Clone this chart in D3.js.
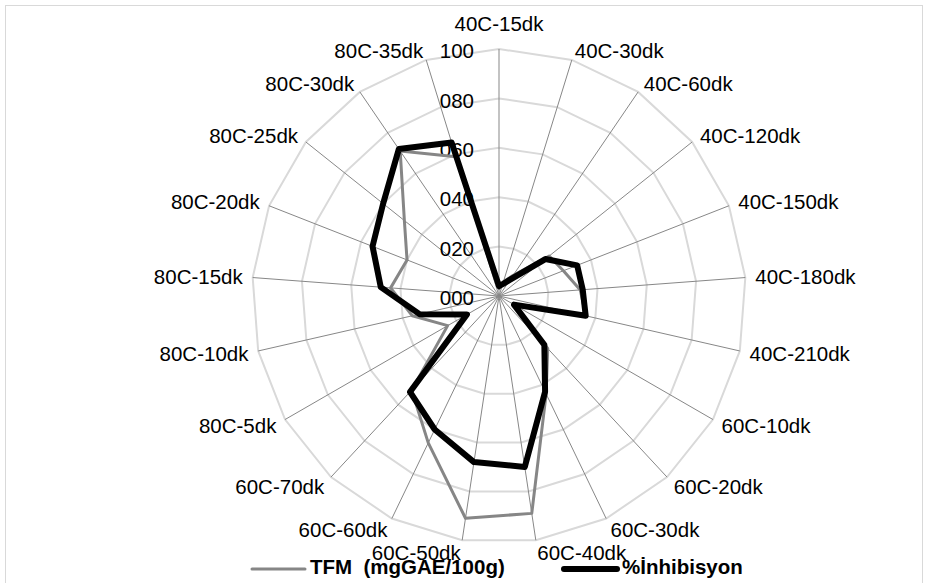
<!DOCTYPE html>
<html><head><meta charset="utf-8">
<script src="https://cdn.jsdelivr.net/npm/d3@7/dist/d3.min.js"></script>
<style>
body{margin:0;background:#fff}
svg text{font-family:"Liberation Sans",Arial,sans-serif}
</style>
</head><body>
<svg id="chart" width="929" height="583"></svg>
<script>
const categories = ["40C-15dk","40C-30dk","40C-60dk","40C-120dk","40C-150dk","40C-180dk","40C-210dk",
  "60C-10dk","60C-20dk","60C-30dk","60C-40dk","60C-50dk","60C-60dk","60C-70dk",
  "80C-5dk","80C-10dk","80C-15dk","80C-20dk","80C-25dk","80C-30dk","80C-35dk"];
const tfm        = [3, 6, 10, 26, 28, 33, 36, 7, 29, 44, 89, 91, 66, 52, 24, 36, 44, 40, 49, 71, 59];
const inhibisyon = [4, 5,  8, 24, 34, 34, 36, 7, 27, 43, 70, 68, 60, 53, 15, 33, 48, 55, 60, 72, 65];
const tickValues = [0, 20, 40, 60, 80, 100];
const tickLabels = ["000","020","040","060","080","100"];
const seriesNames = ["TFM  (mgGAE/100g)", "%İnhibisyon"];
const seriesColors = ["#868686", "#000000"];
const seriesWidths = [3, 6];

const W = 929, H = 583, cx = 499, cy = 296, R = 247;
const svg = d3.select("#chart");

svg.append("rect").attr("x", 5.5).attr("y", 5.5).attr("width", 917).attr("height", 600)
  .attr("fill", "#fff").attr("stroke", "#d9d9d9").attr("stroke-width", 1);

const n = categories.length;
const angle = d3.scaleLinear().domain([0, n]).range([0, 2 * Math.PI]);
const r = d3.scaleLinear().domain([0, 100]).range([0, R]);

const g = svg.append("g").attr("transform", `translate(${cx},${cy})`);

// grid rings
const ringLine = d3.lineRadial().curve(d3.curveLinearClosed).angle((d, i) => angle(i));
tickValues.slice(1).forEach(v => {
  g.append("path")
    .attr("d", ringLine.radius(() => r(v))(categories))
    .attr("fill", "none").attr("stroke", "#d9d9d9").attr("stroke-width", 2);
});

// spokes
categories.forEach((c, i) => {
  const a = angle(i);
  g.append("line")
    .attr("x1", 0).attr("y1", 0)
    .attr("x2", r(100) * Math.sin(a)).attr("y2", -r(100) * Math.cos(a))
    .attr("stroke", "#878787").attr("stroke-width", 1);
});

// category labels
categories.forEach((c, i) => {
  const a = angle(i), s = Math.sin(a), co = Math.cos(a);
  let x, y, anchor;
  if (Math.abs(s) < 1e-6) {
    anchor = "middle"; x = 0;
    y = co > 0 ? -(R + 25) : (R + 25);
  } else {
    anchor = s > 0 ? "start" : "end";
    x = (R + 10) * s;
    y = -(R + 10) * co + (co < 0 ? -co * 3 : 0);
  }
  g.append("text").attr("x", x).attr("y", y).attr("dy", "0.35em")
    .attr("text-anchor", anchor).attr("font-size", 20.5).attr("fill", "#000").text(c);
});

// value axis labels
tickValues.forEach((v, k) => {
  g.append("text").attr("x", -25).attr("y", -r(v) + 2).attr("dy", "0.35em")
    .attr("text-anchor", "end").attr("font-size", 20.5).attr("fill", "#000").text(tickLabels[k]);
});

// series
const seriesLine = d3.lineRadial().curve(d3.curveLinearClosed)
  .angle((d, i) => angle(i)).radius(d => r(d));
[tfm, inhibisyon].forEach((data, k) => {
  g.append("path").attr("d", seriesLine(data))
    .attr("fill", "none").attr("stroke", seriesColors[k]).attr("stroke-width", seriesWidths[k])
    .attr("stroke-linejoin", "round");
});

// legend
const legendItems = [
  {x1: 252, x2: 305, tx: 310},
  {x1: 564, x2: 617, tx: 622}
];
legendItems.forEach((li, k) => {
  svg.append("line").attr("x1", li.x1).attr("x2", li.x2).attr("y1", 569).attr("y2", 569)
    .attr("stroke", seriesColors[k]).attr("stroke-width", seriesWidths[k]).attr("stroke-linecap", "round");
  svg.append("text").attr("x", li.tx).attr("y", 574)
    .attr("font-size", 20.5).attr("font-weight", "bold").attr("fill", "#000")
    .style("white-space", "pre").text(seriesNames[k]);
});
</script>
</body></html>
